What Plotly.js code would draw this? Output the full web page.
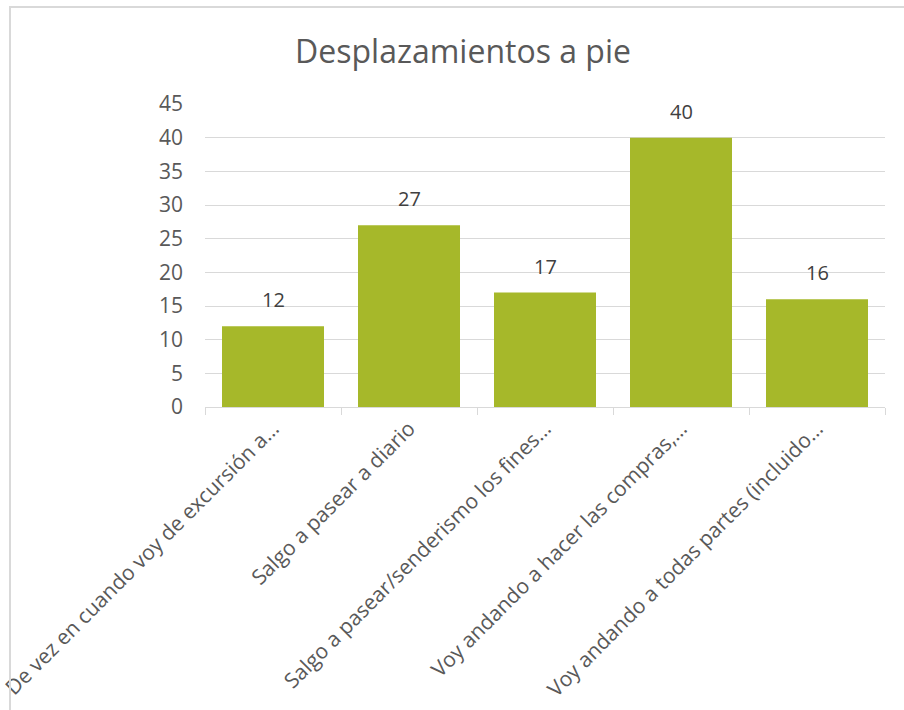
<!DOCTYPE html>
<html>
<head>
<meta charset="utf-8">
<script src="https://cdn.plot.ly/plotly-3.0.1.min.js"></script>
<style>
  html, body { margin: 0; padding: 0; background: #fff; }
  #frame { position: absolute; left: 9px; top: 6px; width: 1000px; height: 800px;
           border-top: 2px solid #d9d9d9; border-left: 2px solid #d9d9d9; pointer-events: none; }
  #chart { position: absolute; left: 0; top: 0; width: 904px; height: 710px; }
</style>
</head>
<body>
<div id="chart"></div>
<div id="frame"></div>
<script>
const categories = [
  "De vez en cuando voy de excursión a…",
  "Salgo a pasear a diario",
  "Salgo a pasear/senderismo los fines…",
  "Voy andando a hacer las compras,…",
  "Voy andando a todas partes (incluido…"
];
const values = [12, 27, 17, 40, 16];
const chartTitle = "Desplazamientos a pie";

const font = "'Open Sans', 'Noto Sans', sans-serif";
const textColor = "#595959";

const trace = {
  type: "bar",
  x: categories,
  y: values,
  marker: { color: "#A6B82A" },
  hoverinfo: "x+y"
};

const labels = categories.map((c, i) => ({
  x: c,
  y: values[i],
  xref: "x",
  yref: "y",
  text: String(values[i]),
  showarrow: false,
  yanchor: "bottom",
  yshift: 11,
  font: { family: font, size: 20, color: "#404040" }
}));

const layout = {
  width: 904,
  height: 710,
  paper_bgcolor: "rgba(0,0,0,0)",
  plot_bgcolor: "#fff",
  margin: { l: 205, r: 19, t: 104, b: 303 },
  bargap: 0.25,
  showlegend: false,
  annotations: labels,
  title: {
    text: chartTitle,
    font: { family: font, size: 32, color: textColor },
    x: 463 / 904,
    xref: "container",
    xanchor: "center",
    y: 1 - 52 / 710,
    yref: "container",
    yanchor: "middle"
  },
  xaxis: {
    type: "category",
    tickangle: -45,
    tickfont: { family: font, size: 21, color: textColor },
    showline: true,
    linecolor: "#d9d9d9",
    linewidth: 1,
    ticks: "outside",
    tickson: "boundaries",
    ticklen: 7,
    tickcolor: "#d9d9d9",
    showgrid: false,
    automargin: false
  },
  yaxis: {
    range: [0, 45],
    dtick: 5,
    tick0: 0,
    tickfont: { family: font, size: 21, color: textColor },
    showgrid: true,
    gridcolor: "#d9d9d9",
    gridwidth: 1,
    zeroline: false,
    showline: false,
    ticks: "",
    ticklabelstandoff: 21,
    automargin: false
  }
};

Plotly.newPlot("chart", [trace], layout, { displayModeBar: false, staticPlot: true });
</script>
</body>
</html>
